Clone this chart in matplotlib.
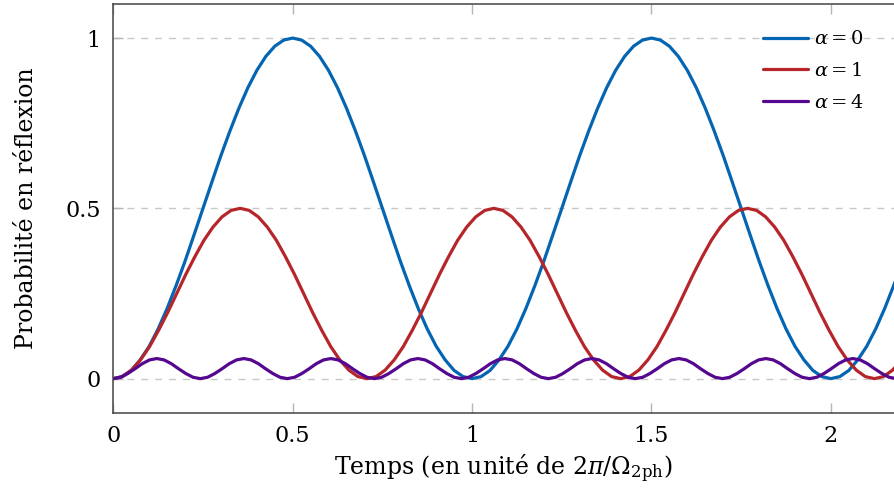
import numpy as np
import matplotlib.pyplot as plt

plt.rcParams['font.family'] = 'DejaVu Serif'
plt.rcParams['mathtext.fontset'] = 'dejavuserif'

# valeurs (pas de temps régulier pour chaque courbe)
t_a0 = np.linspace(0, 2.2, 89)
p_a0 = [0, .006, .024, .055, .095, .146, .206, .273, .345, .422, .5, .578, .655, .727, .794, .854, .905, .946, .976, .994,
        1, .994, .976, .946, .905, .854, .794, .727, .655, .578, .5, .422, .345, .273, .206, .146, .095, .055, .024, .006,
        0, .006, .024, .055, .095, .146, .206, .273, .345, .422, .5, .578, .655, .727, .794, .854, .905, .946, .976, .994,
        1, .994, .976, .946, .905, .854, .794, .727, .655, .578, .5, .422, .345, .273, .206, .146, .095, .055, .024, .006,
        0, .006, .024, .055, .095, .146, .206, .273, .345]

t_a1 = np.linspace(0, 2.2224, 89)
p_a1 = [0, .006, .025, .055, .094, .142, .194, .25, .306, .358, .406, .445, .475, .494,
        .5, .494, .475, .445, .406, .358, .306, .25, .194, .142, .094, .055, .025, .006,
        0, .006, .025, .055, .094, .142, .194, .25, .306, .358, .406, .445, .475, .494,
        .5, .494, .475, .445, .406, .358, .306, .25, .194, .142, .094, .055, .025, .006,
        0, .006, .025, .055, .094, .142, .194, .25, .306, .358, .406, .445, .475, .494,
        .5, .494, .475, .445, .406, .358, .306, .25, .194, .142, .094, .055, .025, .006,
        0, .006, .025, .055, .094]

t_a4 = np.linspace(0, 2.203, 110)
p_a4 = [0, .004, .015, .029, .044, .055, .059, .055, .044, .029, .015, .004,
        0, .004, .015, .029, .044, .055, .059, .055, .044, .029, .015, .004,
        0, .004, .015, .029, .044, .055, .059, .055, .044, .029, .015, .004,
        0, .004, .015, .029, .044, .055, .059, .055, .044, .029, .015, .004,
        0, .004, .015, .029, .044, .055, .059, .055, .044, .029, .015, .004,
        0, .004, .015, .029, .044, .055, .059, .055, .044, .029, .015, .004,
        0, .004, .015, .029, .044, .055, .059, .055, .044, .029, .015, .004,
        0, .004, .015, .029, .044, .055, .059, .055, .044, .029, .015, .004,
        0, .004, .015, .029, .044, .055, .059, .055, .044, .029, .015, .004,
        0, .004]

labels = [r'$\alpha = 0$', r'$\alpha = 1$', r'$\alpha = 4$']
colors = ['#0465b2', '#b5252a', '#55078f']
xticks = [0, 0.5, 1, 1.5, 2]
xticklabels = ['0', '0.5', '1', '1.5', '2']
yticks = [0, 0.5, 1]
yticklabels = ['0', '0.5', '1']

fig = plt.figure(figsize=(8.94, 4.96), dpi=100)
ax = fig.add_axes([113.3 / 894, 83.3 / 496, (894 - 113.3) / 894, (412.7 - 4) / 496])

for t, p, lab, c in zip([t_a0, t_a1, t_a4], [p_a0, p_a1, p_a4], labels, colors):
    ax.plot(t, p, color=c, lw=2.3, label=lab, solid_capstyle='round', solid_joinstyle='round')

ax.set_xlim(0, 2.176)
ax.set_ylim(-0.1, 1.1)
ax.set_xticks(xticks)
ax.set_xticklabels(xticklabels)
ax.set_yticks(yticks)
ax.set_yticklabels(yticklabels)
ax.tick_params(direction='in', length=7, width=1, color='#b5b5b5', top=True, labelsize=16, pad=9)

ax.set_axisbelow(True)
ax.yaxis.grid(True, linestyle=(0, (5, 5)), color='#c8c8c8', lw=1)

for s in ['left', 'bottom', 'top']:
    ax.spines[s].set_color('#444444')
    ax.spines[s].set_linewidth(1.1)
ax.spines['right'].set_visible(False)

ax.set_xlabel(r'Temps (en unité de $2\pi/\Omega_{\mathrm{2ph}}$)', fontsize=17, labelpad=4)
ax.set_ylabel('Probabilité en réflexion', fontsize=17, labelpad=20)

ax.legend(loc='upper right', bbox_to_anchor=(0.986, 0.974), bbox_transform=fig.transFigure,
          frameon=False, fontsize=14, handlelength=2.3, handletextpad=0.3, labelspacing=0.7)

fig.savefig('out.png', dpi=100)
